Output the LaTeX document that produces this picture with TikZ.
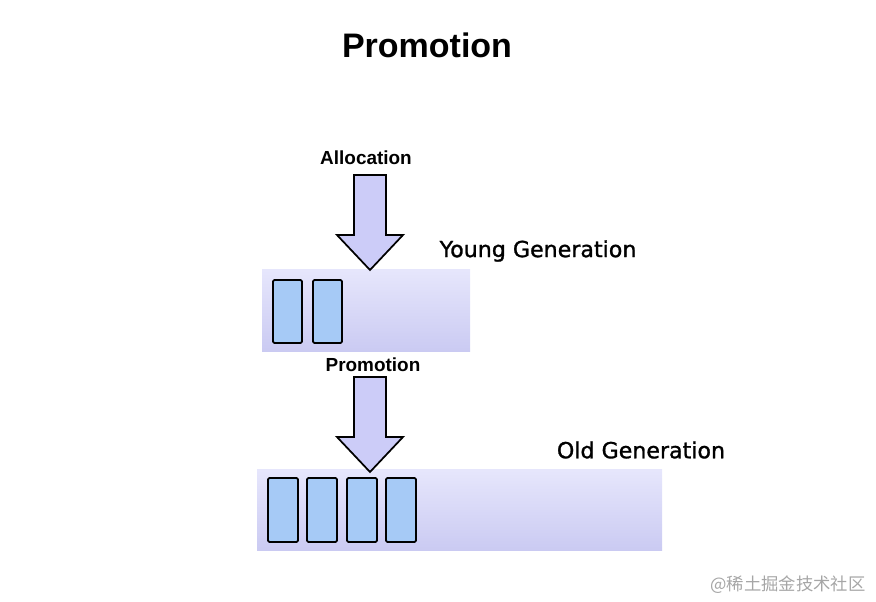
\documentclass[tikz,border=0pt]{standalone}
\usepackage{fontspec}
\setmainfont{Liberation Sans}
\newfontfamily\dvs[FakeBold=1.2]{DejaVu Sans}
\newfontfamily\cjk{Noto Sans CJK SC}
\begin{document}
\begin{tikzpicture}[x=0.75pt,y=-0.75pt,
  gen/.style={draw=none,top color=gtop,bottom color=gbot},
  cell/.style={draw=black,line width=1.3pt,fill=cellc,rounded corners=1pt},
  bigarrow/.style={draw=black,line width=1.3pt,fill=arrc,line join=miter},
  lbl/.style={font=\bfseries\fontsize{14.2}{16}\selectfont},
  glbl/.style={font=\dvs\fontsize{16.6}{19}\selectfont}]
\definecolor{gtop}{HTML}{E6E6FC}
\definecolor{gbot}{HTML}{CACAF2}
\definecolor{cellc}{HTML}{A6CAF6}
\definecolor{arrc}{HTML}{CCCCF8}
\useasboundingbox (0,0) rectangle (876,602);
\node[font=\bfseries\fontsize{25.5}{29}\selectfont] (title) at (427,45) {Promotion};
% young
\path[gen] (262,270) rectangle (470,352);
\foreach \x in {273,313}{\draw[cell] (\x,280) rectangle ++(29,63);}
\node[glbl] (yl) at (538,251) {Young Generation};
\node[lbl] (al) at (366,158) {Allocation};
\draw[bigarrow] (354,175) -- (386,175) -- (386,235) -- (403,235) -- (370,270) -- (337,235) -- (354,235) -- cycle;
% old
\path[gen] (257,470) rectangle (662,551);
\foreach \x in {268,307,347,386}{\draw[cell] (\x,478) rectangle ++(30,64);}
\node[glbl] (ol) at (641,450) {Old Generation};
\node[lbl] (pl) at (373,365) {Promotion};
\draw[bigarrow] (354,377) -- (386,377) -- (386,437) -- (403,437) -- (370,472) -- (337,437) -- (354,437) -- cycle;
\node[text=gray!70,font=\cjk\fontsize{13}{15}\selectfont] (wm) at (788,585) {@稀土掘金技术社区};
\end{tikzpicture}
\end{document}
